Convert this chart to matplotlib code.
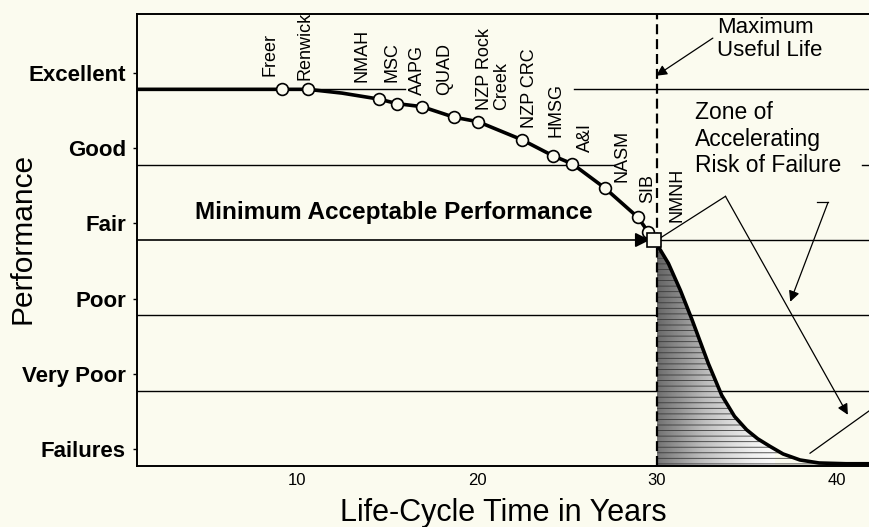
import matplotlib
matplotlib.use('Agg')
import matplotlib.pyplot as plt
import numpy as np

plt.rcParams['font.family'] = ['Liberation Sans', 'DejaVu Sans']
plt.rcParams['hatch.linewidth'] = 0.6

# performance bands, bottom to top
bands = ['Failures', 'Very Poor', 'Poor', 'Fair', 'Good', 'Excellent']
year_ticks = [10, 20, 30, 40]

# buildings on the deterioration curve (year, performance level)
bldg_names = ['Freer', 'Renwick', 'NMAH', 'MSC', 'AAPG', 'QUAD', 'NZP Rock\nCreek',
              'NZP CRC', 'HMSG', 'A&I', 'NASM', 'SIB', 'NMNH']
bldg_year = [9.17, 10.6, 14.56, 15.56, 16.94, 18.72, 20.06, 22.5, 24.2, 25.3, 27.1, 28.94, 29.5]
bldg_perf = [5.0, 5.0, 4.87, 4.81, 4.77, 4.63, 4.57, 4.33, 4.12, 4.01, 3.69, 3.30, 3.11]

# the curve itself
curve_year = [1.1, 6.0, 9.17, 10.6, 12.5, 14.56, 15.56, 16.94, 18.72, 20.06, 22.5, 24.2,
              25.3, 27.1, 28.94, 29.5, 29.85, 30.0, 30.63, 31.3, 31.93, 32.85, 33.59, 34.3,
              34.98, 35.6, 36.28, 37.0, 37.94, 39.0, 40.5, 41.9]
curve_perf = [5.0, 5.0, 5.0, 5.0, 4.95, 4.87, 4.81, 4.77, 4.63, 4.57, 4.33, 4.12,
              4.01, 3.69, 3.30, 3.11, 3.0, 2.94, 2.69, 2.33, 1.95, 1.36, 0.94, 0.66,
              0.48, 0.36, 0.26, 0.16, 0.08, 0.04, 0.03, 0.03]

min_year, min_perf = 29.85, 3.0   # minimum acceptable performance point
max_life = 30                     # maximum useful life

# label placement (layout only)
label_x = [8.5, 10.44, 13.6, 15.3, 16.67, 18.2, 20.9, 22.9, 24.4, 26.0, 28.05, 29.5, 31.1]
label_y = [5.18, 5.12, 5.10, 5.10, 4.92, 4.92, 4.73, 4.49, 4.37, 4.17, 3.77, 3.49, 3.24]

bg = '#fbfbef'
x0, x1 = 1.11, 41.83

fig = plt.figure(figsize=(8.7, 5.27), dpi=100, facecolor=bg)
ax = fig.add_axes([137/870, 61/527, 733/870, 452/527], facecolor=bg)

# grid lines (some are broken where the labels sit)
grid_segs = {1: [(x0, x1)], 2: [(x0, x1)], 3: [(min_year, x1)],
             4: [(x0, 27.6), (41.4, x1)], 5: [(x0, 16.0), (25.4, x1)]}
for yv, segs in grid_segs.items():
    for a, b in segs:
        ax.plot([a, b], [yv, yv], color='k', lw=1.0, zorder=1)

# shaded zone of accelerating risk
cy = np.array(curve_year)
cp = np.array(curve_perf)
m = cy >= max_life
poly = ax.fill_between(cy[m], 0, cp[m], facecolor='none', edgecolor='#3a3a3a',
                       hatch='---', lw=0, zorder=1.5)
gx = np.linspace(0, 1, 200)
gy = np.linspace(0, 1, 100)
GX, GY = np.meshgrid(gx, gy)
grad = np.clip(0.62 - 0.6 * GX ** 0.9 + 0.08 * GY, 0.03, 1)
im = ax.imshow(grad, extent=[30, 36.5, 0, 3], origin='lower', cmap='Greys',
               vmin=0, vmax=1, aspect='auto', zorder=1.2)
im.set_clip_path(poly.get_paths()[0], transform=ax.transData)

# maximum useful life
ax.plot([max_life, max_life], [0, 6], color='k', lw=1.6, dashes=(4.5, 2.2), zorder=2)

# curve and markers
ax.plot(curve_year, curve_perf, color='k', lw=2.6, zorder=3, solid_capstyle='round')
ax.plot(bldg_year, bldg_perf, 'o', ms=8.5, mfc=bg, mec='k', mew=1.2, zorder=4)
ax.plot([min_year], [min_perf], 's', ms=10, mfc=bg, mec='k', mew=1.2, zorder=5)

for name, lx, ly in zip(bldg_names, label_x, label_y):
    ax.text(lx, ly, name, rotation=90, ha='center', va='bottom', fontsize=13,
            multialignment='left', linespacing=1.0, zorder=6)

# minimum acceptable performance
ax.annotate('', xy=(min_year - 0.25, min_perf), xytext=(x0, min_perf),
            arrowprops=dict(arrowstyle='-|>', color='k', lw=1.2, mutation_scale=22,
                            shrinkA=0, shrinkB=0), zorder=4)
ax.text(4.33, 3.36, 'Minimum Acceptable Performance', fontsize=17.5,
        fontweight='bold', ha='left', va='center')

# maximum useful life label
ax.text(33.33, 5.67, 'Maximum\nUseful Life', fontsize=16, ha='left', va='center',
        linespacing=1.15)
ax.annotate('', xy=(29.95, 5.18), xytext=(33.1, 5.68),
            arrowprops=dict(arrowstyle='-|>', color='k', lw=0.9, mutation_scale=16,
                            shrinkA=0, shrinkB=0))

# zone of accelerating risk
ax.text(32.1, 4.34, 'Zone of\nAccelerating\nRisk of Failure', fontsize=16.5,
        ha='left', va='center', linespacing=1.2,
        bbox=dict(facecolor=bg, edgecolor='none', pad=1))
ax.plot([33.8, 30.2], [3.58, 3.03], color='k', lw=0.9, zorder=4)
ax.annotate('', xy=(40.6, 0.68), xytext=(33.8, 3.58),
            arrowprops=dict(arrowstyle='-|>', color='k', lw=0.9, mutation_scale=16,
                            shrinkA=0, shrinkB=0))
ax.plot([38.9, 39.5], [3.5, 3.5], color='k', lw=0.9)
ax.annotate('', xy=(37.4, 2.18), xytext=(39.5, 3.5),
            arrowprops=dict(arrowstyle='-|>', color='k', lw=0.9, mutation_scale=16,
                            shrinkA=0, shrinkB=0))
ax.plot([x1, 38.5], [0.74, 0.17], color='k', lw=0.9)

# axes
ax.set_xlim(x0, x1)
ax.set_ylim(0, 6)
ax.set_xticks(year_ticks)
ax.set_xticklabels([str(t) for t in year_ticks], fontsize=12)
ax.set_yticks([i + 0.22 for i in range(len(bands))])
ax.set_yticklabels(bands, fontsize=16, fontweight='bold')
ax.tick_params(axis='x', length=0, pad=5)
ax.tick_params(axis='y', length=3, width=1, pad=5)
ax.spines['right'].set_visible(False)
for s in ['left', 'top', 'bottom']:
    ax.spines[s].set_linewidth(1.4)

fig.text(23/870, 1 - 238/527, 'Performance', rotation=90, ha='center', va='center',
         fontsize=21.5)
fig.text(503/870, 1 - 521/527, 'Life-Cycle Time in Years', ha='center',
         va='baseline', fontsize=22)

fig.savefig('out.png', dpi=100, facecolor=bg)
